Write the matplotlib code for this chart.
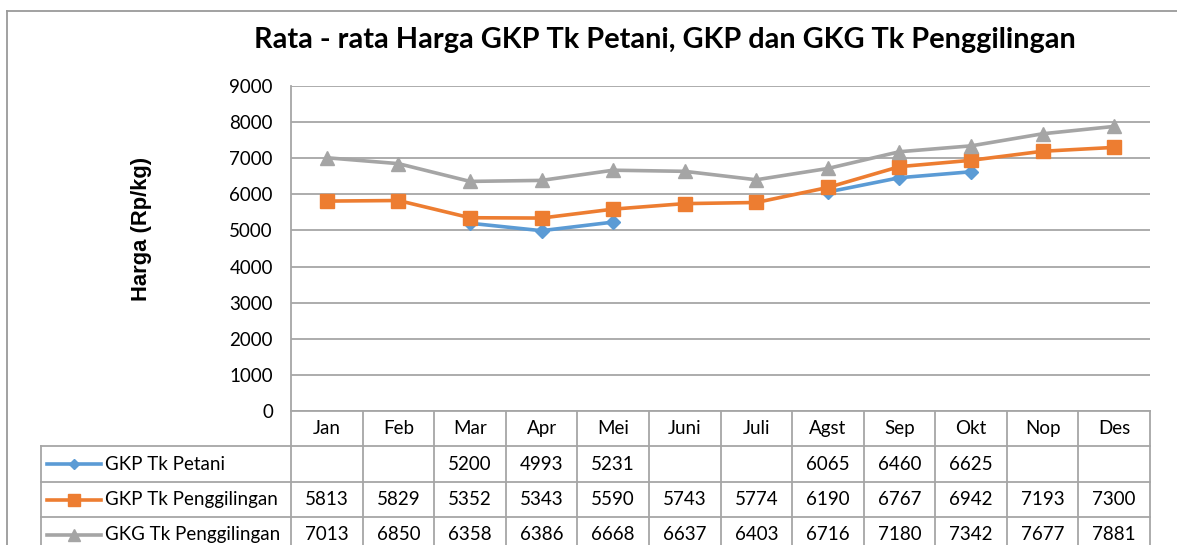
import numpy as np
import matplotlib
matplotlib.use("Agg")
import matplotlib.pyplot as plt
from matplotlib.lines import Line2D
from matplotlib import transforms

# data
months = ["Jan", "Feb", "Mar", "Apr", "Mei", "Juni", "Juli", "Agst", "Sep", "Okt", "Nop", "Des"]
gkp_petani = [None, None, 5200, 4993, 5231, None, None, 6065, 6460, 6625, None, None]
gkp_penggilingan = [5813, 5829, 5352, 5343, 5590, 5743, 5774, 6190, 6767, 6942, 7193, 7300]
gkg_penggilingan = [7013, 6850, 6358, 6386, 6668, 6637, 6403, 6716, 7180, 7342, 7677, 7881]
series_names = ["GKP Tk Petani", "GKP Tk Penggilingan", "GKG Tk Penggilingan"]
y_ticks = [0, 1000, 2000, 3000, 4000, 5000, 6000, 7000, 8000, 9000]

colors = ["#5B9BD5", "#ED7D31", "#A5A5A5"]
markers = ["D", "s", "^"]
msizes = [7, 10, 10]
grid_col = "#A6A6A6"
font = ["Lato", "DejaVu Sans"]
tab_fs = 13.5

W, H = 1177, 545
fig = plt.figure(figsize=(W / 100, H / 100), dpi=100)


def fx(px):
    return px / W


def fy(py):
    return 1 - py / H


left, right, top, bottom = 291, 1150, 86, 411
ax = fig.add_axes([fx(left), fy(bottom), fx(right - left), (bottom - top) / H])
ax.set_xlim(-0.5, len(months) - 0.5)
ax.set_ylim(0, 9000)
ax.set_yticks(y_ticks)
ax.set_yticklabels([str(t) for t in y_ticks], fontsize=13.5, family=font)
ax.set_xticks([])
ax.tick_params(axis="y", length=0, pad=13)
for s in ax.spines.values():
    s.set_visible(False)
ax.grid(axis="y", color=grid_col, lw=1.3)
ax.set_axisbelow(True)

x = np.arange(len(months))
all_series = [gkp_petani, gkp_penggilingan, gkg_penggilingan]
for vals, c, m, ms, name in zip(all_series, colors, markers, msizes, series_names):
    y = np.array([np.nan if v is None else v for v in vals], dtype=float)
    ax.plot(x, y, color=c, lw=2.6, marker=m, ms=ms, mec=c, mfc=c, label=name, zorder=3)

# titles
fig.text(fx(665), fy(40), "Rata - rata Harga GKP Tk Petani, GKP dan GKG Tk Penggilingan",
         ha="center", va="center", fontsize=20.8, fontweight="bold", family=font)
fig.text(fx(142), fy(229), "Harga (Rp/kg)", rotation=90, ha="center", va="center",
         fontsize=15.8, fontweight="bold", family="Liberation Sans")

# outer chart border
fig.add_artist(Line2D([fx(7), fx(7)], [fy(11), fy(560)], color="#9A9A9A", lw=1.3,
                      transform=fig.transFigure))
fig.add_artist(Line2D([fx(7), fx(1200)], [fy(11), fy(11)], color="#9A9A9A", lw=1.3,
                      transform=fig.transFigure))

# data table
blend = transforms.blended_transform_factory(ax.transData, fig.transFigure)
row_edges = [411, 446, 482, 517, 552]
tab_left = 41

# vertical line along the value axis down through the table
fig.add_artist(Line2D([fx(left), fx(left)], [fy(top), fy(560)], color=grid_col, lw=1.3,
                      transform=fig.transFigure))
for k in range(1, len(months) + 1):
    xe = k - 0.5
    fig.add_artist(Line2D([xe, xe], [fy(row_edges[0]), fy(560)], color=grid_col, lw=1.3,
                          transform=blend))
fig.add_artist(Line2D([fx(tab_left), fx(tab_left)], [fy(row_edges[1]), fy(560)],
                      color=grid_col, lw=1.3, transform=fig.transFigure))
fig.add_artist(Line2D([fx(left), fx(right)], [fy(row_edges[0]), fy(row_edges[0])],
                      color=grid_col, lw=1.3, transform=fig.transFigure))
for r in row_edges[1:4]:
    fig.add_artist(Line2D([fx(tab_left), fx(right)], [fy(r), fy(r)], color=grid_col, lw=1.3,
                          transform=fig.transFigure))

# header row
hy = (row_edges[0] + row_edges[1]) / 2
for i, mname in enumerate(months):
    fig.text(i, fy(hy), mname, transform=blend, ha="center", va="center",
             fontsize=tab_fs, family=font)

# series rows with legend keys
for r, (vals, c, m, ms, name) in enumerate(zip(all_series, colors, markers, msizes, series_names)):
    ry = (row_edges[r + 1] + row_edges[r + 2]) / 2
    fig.add_artist(Line2D([fx(47), fx(101)], [fy(ry), fy(ry)], color=c, lw=2.6,
                          transform=fig.transFigure))
    fig.add_artist(Line2D([fx(74)], [fy(ry)], color=c, marker=m, ms=ms * 0.8, mec=c, mfc=c,
                          transform=fig.transFigure))
    fig.text(fx(105), fy(ry), name, ha="left", va="center", fontsize=tab_fs, family=font)
    for i, v in enumerate(vals):
        if v is not None:
            fig.text(i, fy(ry), str(v), transform=blend, ha="center", va="center",
                     fontsize=tab_fs, family=font)

fig.savefig("out.png", dpi=100)
